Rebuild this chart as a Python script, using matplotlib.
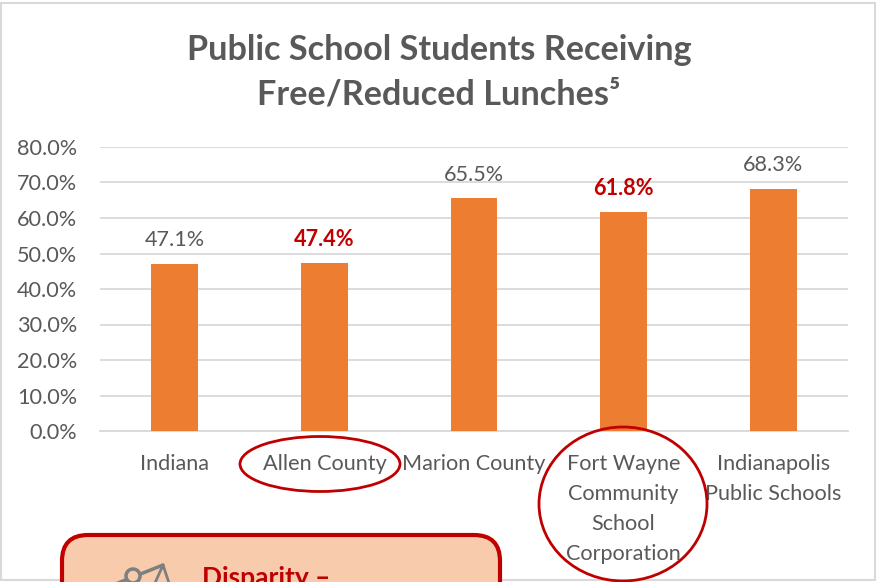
import matplotlib
matplotlib.use('Agg')
import matplotlib.pyplot as plt
from matplotlib.patches import Ellipse, FancyBboxPatch, Rectangle

plt.rcParams['font.family'] = ['Lato', 'DejaVu Sans']

categories = ['Indiana', 'Allen County', 'Marion County',
              'Fort Wayne\nCommunity\nSchool\nCorporation',
              'Indianapolis\nPublic Schools']
values = [47.1, 47.4, 65.5, 61.8, 68.3]
highlighted = ['Allen County', 'Fort Wayne\nCommunity\nSchool\nCorporation']
y_ticks = [0, 10, 20, 30, 40, 50, 60, 70, 80]

W, H = 877, 582
GREY = '#595959'
RED = '#C00000'
ORANGE = '#ED7D31'

fig = plt.figure(figsize=(W / 100, H / 100), dpi=100)

# chart area, placed in pixels
ax = fig.add_axes([100 / W, 1 - 431 / H, 748 / W, 284 / H])
ax.bar(range(len(values)), values, width=0.314, color=ORANGE, zorder=3)
ax.set_xlim(-0.5, 4.5)
ax.set_ylim(0, 80)
ax.set_yticks(y_ticks)
ax.set_yticklabels([f'{v:.1f}%' for v in y_ticks], fontsize=15.6, color=GREY)
ax.set_xticks(range(len(categories)))
ax.set_xticklabels(categories, fontsize=15.6, color=GREY, linespacing=1.62, va='top')
ax.tick_params(length=0)
ax.tick_params(axis='x', pad=16.5)
ax.tick_params(axis='y', pad=16.5)
ax.grid(axis='y', color='#D9D9D9', lw=1.3, zorder=0)
ax.set_axisbelow(True)
for s in ['top', 'left', 'right']:
    ax.spines[s].set_visible(False)
ax.spines['bottom'].set_color('#D9D9D9')
ax.spines['bottom'].set_linewidth(1.3)

# data labels
for i, v in enumerate(values):
    if categories[i] in highlighted:
        ax.annotate(f'{v:.1f}%', (i, v), xytext=(0, 9), textcoords='offset points',
                    ha='center', va='bottom', fontsize=15.6, color=RED, fontweight='bold')
    else:
        ax.annotate(f'{v:.1f}%', (i, v), xytext=(0, 10), textcoords='offset points',
                    ha='center', va='bottom', fontsize=15.6, color=GREY)

# overlay in pixel coordinates for border, title, circles and callout
ov = fig.add_axes([0, 0, 1, 1], facecolor='none')
ov.set_xlim(0, W)
ov.set_ylim(H, 0)
ov.axis('off')

ov.add_patch(Rectangle((1, 3), 874, 577, fill=False, ec='#D9D9D9', lw=1.5))
ov.text(439, 50, 'Public School Students Receiving', ha='center', va='center',
        fontsize=24.7, fontweight='bold', color=GREY)
ov.text(439, 94, 'Free/Reduced Lunches⁵', ha='center', va='center',
        fontsize=24.7, fontweight='bold', color=GREY)

ov.add_patch(Ellipse((320, 464), 160, 55, fill=False, ec=RED, lw=2))
ov.add_patch(Ellipse((623, 504), 168, 154, fill=False, ec=RED, lw=2))

ov.add_patch(FancyBboxPatch((62, 535), 438, 90, boxstyle='round,pad=0,rounding_size=26',
                            fc='#F8CBAD', ec=RED, lw=3))
ov.text(202, 578, 'Disparity –', ha='left', va='center', fontsize=19,
        fontweight='bold', color=RED, clip_on=True)

# balance icon, only its top shows
ov.plot([118, 163], [583, 565], color='#7F7F7F', lw=2.5, solid_capstyle='round')
ov.add_patch(Ellipse((133, 576), 14, 14, fc='#F8CBAD', ec='#7F7F7F', lw=2.5, zorder=4))
ov.plot([155, 163, 169], [583, 565, 583], color='#7F7F7F', lw=2)

fig.savefig('out.png', dpi=100)
